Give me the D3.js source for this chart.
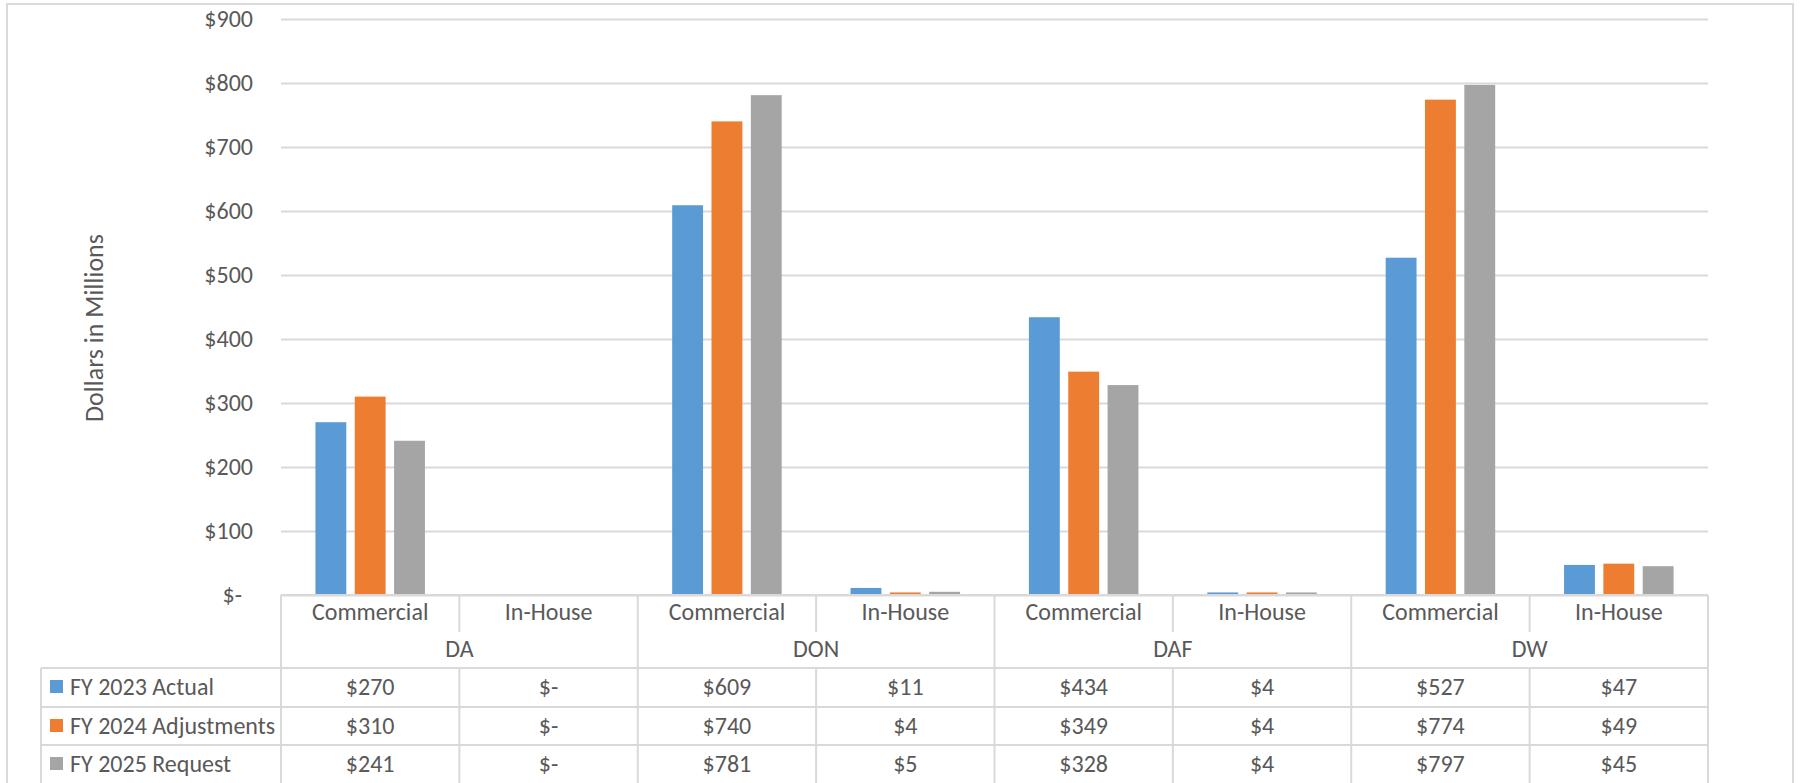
<!DOCTYPE html>
<html>
<head>
<meta charset="utf-8">
<script src="https://cdn.jsdelivr.net/npm/d3@7/dist/d3.min.js"></script>
<style>
  body { margin: 0; background: #fff; }
  svg { display: block; font-family: Calibri, Carlito, Lato, sans-serif; }
</style>
</head>
<body>
<div id="chart"></div>
<script>
// data
var groups = ["DA", "DON", "DAF", "DW"];
var types = ["Commercial", "In-House"];
var seriesNames = ["FY 2023 Actual", "FY 2024 Adjustments", "FY 2025 Request"];
var fy2023 = [270, 0, 609, 11, 434, 4, 527, 47];
var fy2024 = [310, 0, 740, 4, 349, 4, 774, 49];
var fy2025 = [241, 0, 781, 5, 328, 4, 797, 45];
var yTicks = [0, 100, 200, 300, 400, 500, 600, 700, 800, 900];
var colors = ["#5b9bd5", "#ed7d31", "#a5a5a5"];

var width = 1801, height = 783;
var plotLeft = 281, plotRight = 1708, plotTop = 19, plotBottom = 595;
var legendLeft = 41;
var textColor = "#595959", lineColor = "#d9d9d9";

function money(v) { return v === 0 ? "$-" : "$" + v; }

var series = [fy2023, fy2024, fy2025];
var cats = [];
groups.forEach(function(g) { types.forEach(function(t) { cats.push(g + "|" + t); }); });

var svg = d3.select("#chart").append("svg")
  .attr("width", width)
  .attr("height", height);

// chart area border
svg.append("rect")
  .attr("x", 7).attr("y", 4)
  .attr("width", 1786).attr("height", 820)
  .attr("fill", "none")
  .attr("stroke", lineColor)
  .attr("stroke-width", 2);

var x = d3.scaleBand().domain(cats).range([plotLeft, plotRight]);
var pad = x.bandwidth() * 0.193;
var x1 = d3.scaleBand().domain(seriesNames)
  .range([pad, x.bandwidth() - pad])
  .paddingInner(0.215);
var y = d3.scaleLinear().domain([0, 900]).range([plotBottom, plotTop]);

// y axis with gridlines
var yAxis = svg.append("g")
  .attr("transform", "translate(" + plotLeft + ",0)")
  .call(d3.axisLeft(y).tickValues(yTicks).tickSize(-(plotRight - plotLeft)).tickPadding(28).tickFormat(money));
yAxis.select(".domain").remove();
yAxis.selectAll("line").attr("stroke", lineColor).attr("stroke-width", 2);
yAxis.selectAll("text")
  .attr("fill", textColor)
  .style("font-size", "24px")
  .style("font-family", "Calibri, Carlito, Lato, sans-serif")
  .attr("dx", function(d) { return d === 0 ? -11 : 0; });

// axis title
svg.append("text")
  .attr("transform", "translate(103,328) rotate(-90)")
  .attr("text-anchor", "middle")
  .attr("fill", textColor)
  .style("font-size", "26px")
  .text("Dollars in Millions");

// bars
series.forEach(function(vals, si) {
  svg.append("g")
    .selectAll("rect")
    .data(vals)
    .join("rect")
    .attr("x", function(d, i) { return x(cats[i]) + x1(seriesNames[si]); })
    .attr("y", function(d) { return y(d); })
    .attr("width", x1.bandwidth())
    .attr("height", function(d) { return plotBottom - y(d); })
    .attr("fill", colors[si]);
});

// data table
var rowTop = [668, 707, 745];
var tableBottom = 790;
var grid = svg.append("g").attr("stroke", lineColor).attr("stroke-width", 2);

cats.forEach(function(c, i) {
  var x0 = x(c);
  if (i % 2 === 0) {
    grid.append("line").attr("x1", x0).attr("x2", x0).attr("y1", plotBottom).attr("y2", tableBottom);
  } else {
    grid.append("line").attr("x1", x0).attr("x2", x0).attr("y1", plotBottom).attr("y2", 632);
    grid.append("line").attr("x1", x0).attr("x2", x0).attr("y1", rowTop[0]).attr("y2", tableBottom);
  }
});
grid.append("line").attr("x1", plotRight).attr("x2", plotRight).attr("y1", plotBottom).attr("y2", tableBottom);
grid.append("line").attr("x1", legendLeft).attr("x2", legendLeft).attr("y1", rowTop[0]).attr("y2", tableBottom);
grid.append("line").attr("x1", plotLeft).attr("x2", plotRight).attr("y1", plotBottom).attr("y2", plotBottom);
rowTop.forEach(function(r) {
  grid.append("line").attr("x1", legendLeft).attr("x2", plotRight).attr("y1", r).attr("y2", r);
});

var labels = svg.append("g")
  .attr("fill", textColor)
  .attr("text-anchor", "middle")
  .style("font-size", "24px");

cats.forEach(function(c, i) {
  labels.append("text")
    .attr("x", x(c) + x.bandwidth() / 2)
    .attr("y", 620)
    .text(types[i % 2]);
});
groups.forEach(function(g, gi) {
  labels.append("text")
    .attr("x", x(cats[gi * 2]) + x.bandwidth())
    .attr("y", 657)
    .text(g);
});

series.forEach(function(vals, si) {
  var ty = rowTop[si] + 27;
  svg.append("rect")
    .attr("x", 50).attr("y", rowTop[si] + 12)
    .attr("width", 13).attr("height", 13)
    .attr("fill", colors[si]);
  svg.append("text")
    .attr("x", 70).attr("y", ty)
    .attr("fill", textColor)
    .style("font-size", "24px")
    .text(seriesNames[si]);
  vals.forEach(function(v, i) {
    labels.append("text")
      .attr("x", x(cats[i]) + x.bandwidth() / 2)
      .attr("y", ty)
      .text(money(v));
  });
});
</script>
</body>
</html>
